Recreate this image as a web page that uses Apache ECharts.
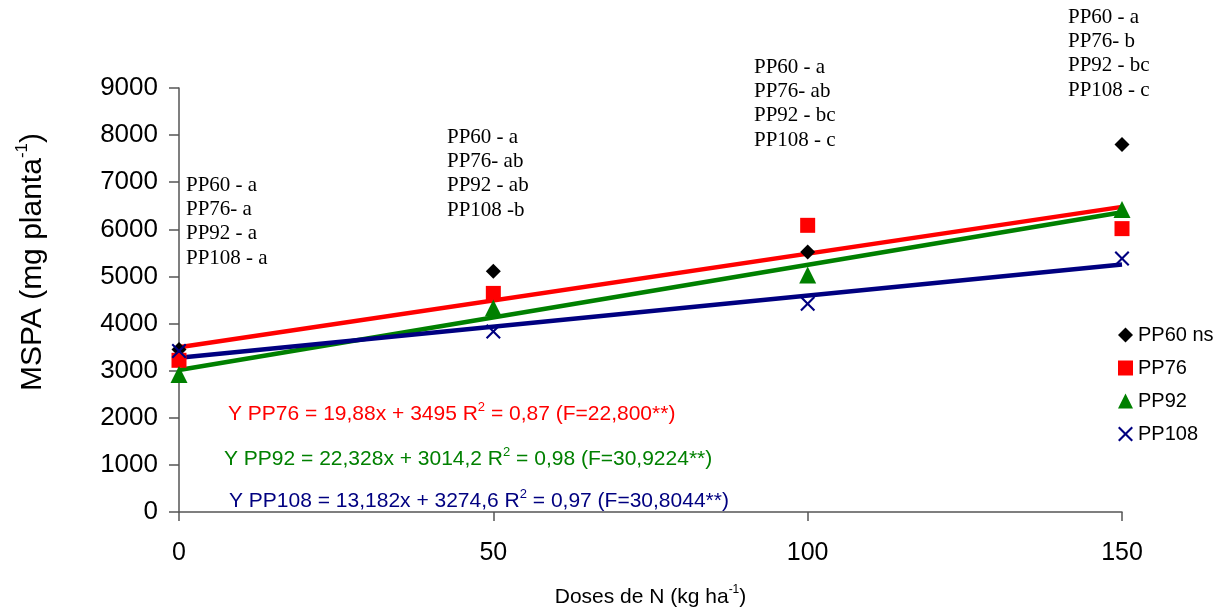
<!DOCTYPE html>
<html>
<head>
<meta charset="utf-8">
<script src="https://cdn.jsdelivr.net/npm/echarts@6/dist/echarts.min.js"></script>
<style>html,body{margin:0;padding:0;background:#fff}#c{width:1229px;height:612px}</style>
</head>
<body>
<div id="c"></div>
<script>
// ---- data ----
const doses = [0, 50, 100, 150];
const pp60 = [3450, 5110, 5520, 7800];
const pp76 = [3220, 4640, 6085, 6015];
const pp92 = [2920, 4330, 5030, 6420];
const pp108 = [3420, 3830, 4420, 5380];
// trend line end values (from printed equations) at dose 0 and 150
const trendX = [0, 150];
const trend76 = [3495, 6477];
const trend92 = [3014.2, 6363.4];
const trend108 = [3274.6, 5251.9];
const yTicks = [0, 9000, 1000];
const xTicks = [0, 150, 50];
const seriesNames = ['PP60 ns', 'PP76', 'PP92', 'PP108'];
const annotations = [
  ['PP60 - a', 'PP76- a', 'PP92 - a', 'PP108 - a'],
  ['PP60 - a', 'PP76- ab', 'PP92 - ab', 'PP108 -b'],
  ['PP60 - a', 'PP76- ab', 'PP92 - bc', 'PP108 - c'],
  ['PP60 - a', 'PP76- b', 'PP92 - bc', 'PP108 - c']
];
const equations = [
  ['Y PP76 = 19,88x + 3495 R', '2', ' = 0,87 (F=22,800**)'],
  ['Y PP92 = 22,328x + 3014,2 R', '2', ' = 0,98 (F=30,9224**)'],
  ['Y PP108 = 13,182x + 3274,6 R', '2', ' = 0,97 (F=30,8044**)']
];
const yTitle = ['MSPA (mg planta', '-1', ')'];
const xTitle = ['Doses de N (kg ha', '-1', ')'];

// ---- styling ----
const colors = ['#000000', '#ff0000', '#008000', '#000080'];
const xPath = 'path://M0,1L1,0L5,4L9,0L10,1L6,5L10,9L9,10L5,6L1,10L0,9L4,5Z';
const symbols = ['diamond', 'rect', 'triangle', xPath];
const symSizes = [15, 15, 17, 15];
const sans = 'Arial, "Liberation Sans", sans-serif';
const serif = '"Times New Roman", "Liberation Serif", serif';
const axisColor = '#555555';

const pts = [pp60, pp76, pp92, pp108];
const series = pts.map((arr, i) => ({
  name: seriesNames[i],
  type: 'scatter',
  data: doses.map((d, j) => [d, arr[j]]),
  symbol: symbols[i],
  symbolSize: symSizes[i],
  itemStyle: { color: colors[i], opacity: 1 },
  z: 3
}));
[[trend76, 1], [trend92, 2], [trend108, 3]].forEach(([t, ci]) => {
  series.push({
    type: 'line',
    data: trendX.map((x, j) => [x, t[j]]),
    symbol: 'none',
    lineStyle: { color: colors[ci], width: 4.5 },
    silent: true,
    z: 2
  });
});

const annX = [186, 447, 754, 1068];
const annTop = [173, 125, 55, 5];
const graphics = annotations.map((lines, i) => ({
  type: 'text',
  left: annX[i],
  top: annTop[i],
  style: { text: lines.join('\n'), font: '21px ' + serif, fill: '#000', lineHeight: 24.3 }
}));
const eqX = [228, 224, 229];
const eqY = [401, 446, 488];
equations.forEach((e, i) => {
  graphics.push({
    type: 'text',
    left: eqX[i],
    top: eqY[i],
    style: {
      text: '{t|' + e[0] + '}{s|' + e[1] + '}{t|' + e[2] + '}',
      rich: {
        t: { fontSize: 21, fontFamily: sans, fill: colors[i + 1], lineHeight: 24, verticalAlign: 'bottom' },
        s: { fontSize: 13, fontFamily: sans, fill: colors[i + 1], lineHeight: 24, verticalAlign: 'top' }
      }
    }
  });
});
// y axis title (rotated)
graphics.push({
  type: 'text',
  x: 31, y: 262,
  rotation: Math.PI / 2,
  style: {
    text: '{a|' + yTitle[0] + '}{s|' + yTitle[1] + '}{a|' + yTitle[2] + '}',
    align: 'center', verticalAlign: 'middle',
    rich: {
      a: { fontSize: 30, fontFamily: sans, fill: '#000', lineHeight: 34, verticalAlign: 'bottom' },
      s: { fontSize: 17, fontFamily: sans, fill: '#000', lineHeight: 34, verticalAlign: 'top' }
    }
  }
});

const chart = echarts.init(document.getElementById('c'), null, { renderer: 'canvas' });
chart.setOption({
  animation: false,
  backgroundColor: '#fff',
  grid: { left: 179, right: 107, top: 88, bottom: 100, containLabel: false, outerBoundsMode: 'none' },
  legend: {
    data: seriesNames,
    orient: 'vertical',
    left: 1113,
    top: 320,
    itemWidth: 15,
    itemHeight: 15,
    itemGap: 13,
    textStyle: { fontSize: 20, fontFamily: sans, color: '#000' }
  },
  xAxis: {
    type: 'value',
    min: xTicks[0], max: xTicks[1], interval: xTicks[2],
    splitLine: { show: false },
    axisLine: { lineStyle: { color: axisColor, width: 1.5 } },
    axisTick: { show: true, length: 9, lineStyle: { color: axisColor, width: 1.5 } },
    axisLabel: { fontSize: 25, fontFamily: sans, color: '#000', margin: 29 },
    name: '{a|' + xTitle[0] + '}{s|' + xTitle[1] + '}{a|' + xTitle[2] + '}',
    nameLocation: 'middle',
    nameGap: 72,
    nameTextStyle: {
      rich: {
        a: { fontSize: 21, fontFamily: sans, color: '#000', lineHeight: 24, verticalAlign: 'bottom' },
        s: { fontSize: 12, fontFamily: sans, color: '#000', lineHeight: 24, verticalAlign: 'top' }
      }
    }
  },
  yAxis: {
    type: 'value',
    min: yTicks[0], max: yTicks[1], interval: yTicks[2],
    splitLine: { show: false },
    axisLine: { show: true, lineStyle: { color: axisColor, width: 1.5 } },
    axisTick: { show: true, length: 10, lineStyle: { color: axisColor, width: 1.5 } },
    axisLabel: { fontSize: 26, fontFamily: sans, color: '#000', margin: 21, formatter: v => String(v) }
  },
  series: series,
  graphic: graphics
});
</script>
</body>
</html>
